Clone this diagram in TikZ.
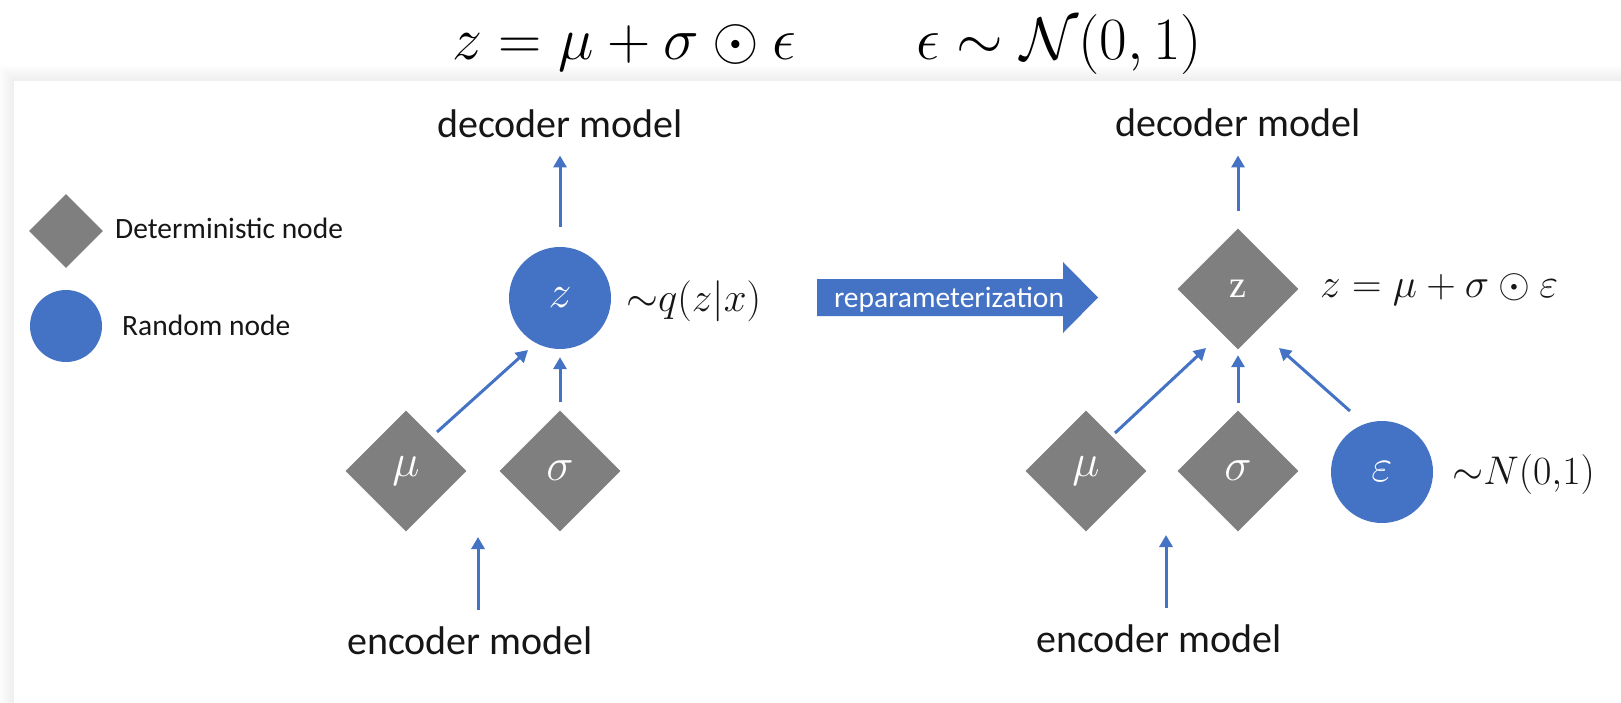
\RequirePackage{fix-cm}
\documentclass[tikz,border=0pt]{standalone}
\usepackage{fontspec}
\setmainfont{Carlito}
\newfontfamily\serifz{Liberation Serif}
\usetikzlibrary{shapes.geometric,arrows.meta}
\definecolor{obblue}{RGB}{68,114,196}
\definecolor{obgray}{RGB}{127,127,127}
\definecolor{txt}{RGB}{22,22,22}
\begin{document}
\begin{tikzpicture}[x=1pt,y=-1pt,
  det/.style={diamond, fill=obgray, inner sep=0pt, minimum width=121pt, minimum height=121pt, aspect=1, text=white, font=\fontsize{46}{50}\selectfont},
  rnd/.style={circle, fill=obblue, inner sep=0pt, minimum size=102pt, text=white, font=\fontsize{46}{50}\selectfont},
  lbl/.style={inner sep=0pt, text=txt, font=\fontsize{40}{48}\selectfont},
  mlbl/.style={inner sep=0pt, text=txt, font=\fontsize{41}{48}\selectfont, anchor=base west},
  leg/.style={inner sep=0pt, text=txt, font=\fontsize{29.5}{34}\selectfont, anchor=base west},
  arr/.style={draw=obblue, line width=3pt, -{Triangle[length=12pt,width=13pt]}},
]
\useasboundingbox (0,0) rectangle (1621,703);
\fill[white] (0,0) rectangle (1621,703);
% panel with soft shadow
\foreach \i in {1,...,16} \fill[black,opacity=0.005] (14-\i,81-\i) rectangle (1621,703);
\fill[white] (14,81) rectangle (1621,703);

% title
\node[inner sep=0pt, anchor=base west, font=\fontsize{60}{72}\selectfont] (title) at (452,60)
  {$z = \mu + \sigma \odot \epsilon \qquad \epsilon \sim \mathcal{N}(0,1)$};

% legend
\node[det, minimum width=74pt, minimum height=74pt] (legd) at (66,231) {};
\node[rnd, minimum size=72pt] (legr) at (66,326) {};
\node[leg] (legdt) at (115,239) {Deterministic node};
\node[leg] (legrt) at (122,335) {Random node};

% left graph
\node[lbl, anchor=base] (dec1) at (560,138) {decoder model};
\node[rnd] (z1) at (560,298) {$z$};
\node[mlbl] (q1) at (626,311) {${\sim}q(z|x)$};
\node[det] (mu1) at (406,471) {$\mu$};
\node[det] (sg1) at (560,471) {$\sigma$};
\node[lbl, anchor=base] (enc1) at (470,654) {encoder model};
\coordinate (in1) at (478,537);

\draw[arr] ([shift={(0,-20)}]z1.north) -- ([shift={(0,17)}]dec1.south);
\draw[arr] ([shift={(0,-8)}]sg1.north) -- ([shift={(0,8)}]z1.south);
\draw[arr] ([shift={(31,-39)}]mu1.center) -- ([shift={(-32,52)}]z1.center);
\draw[arr] ([shift={(8,-16)}]enc1.north) -- (in1);

% reparameterization arrow
\fill[obblue] (817,279) -- (1063,279) -- (1063,262) -- (1098,297.5) -- (1063,333) -- (1063,316) -- (817,316) -- cycle;
\node[inner sep=0pt, anchor=base, text=white, font=\fontsize{29.5}{34}\selectfont] (rep) at (949,307) {reparameterization};

% right graph
\node[lbl, anchor=base] (dec2) at (1238,137) {decoder model};
\node[det, font=\fontsize{38}{42}\selectfont\serifz] (z2) at (1238,289) {z};
\node[mlbl] (eq2) at (1320,297) {$z=\mu+\sigma\odot\varepsilon$};
\node[det] (mu2) at (1086,471) {$\mu$};
\node[det] (sg2) at (1238,471) {$\sigma$};
\node[rnd] (ep) at (1382,472) {$\varepsilon$};
\node[mlbl, font=\fontsize{40}{48}\selectfont] (n2) at (1452,484) {${\sim}N(0{,}1)$};
\node[lbl, anchor=base] (enc2) at (1159,652) {encoder model};
\coordinate (in2) at (1166,535);

\draw[arr] ([shift={(0,-17.5)}]z2.north) -- ([shift={(0,18)}]dec2.south);
\draw[arr] ([shift={(0,-7.5)}]sg2.north) -- ([shift={(0,5.5)}]z2.south);
\draw[arr] ([shift={(29,-38)}]mu2.center) -- ([shift={(-32,59)}]z2.center);
\draw[arr] ([shift={(-32,-61)}]ep.center) -- ([shift={(41,59)}]z2.center);
\draw[arr] ([shift={(7,-16)}]enc2.north) -- (in2);
\end{tikzpicture}
\end{document}
